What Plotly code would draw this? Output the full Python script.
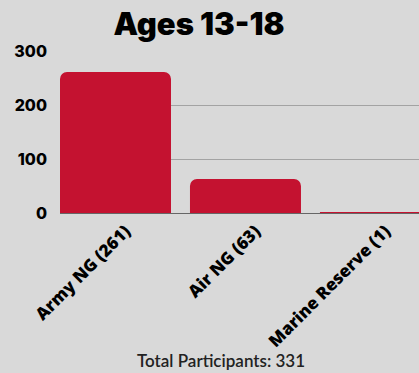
import plotly.graph_objects as go

categories = ["Army NG (261)", "Air NG (63)", "Marine Reserve (1)"]
values = [261, 63, 1]
y_ticks = [0, 100, 200, 300]
title_text = "Ages 13-18"
footer_text = "Total Participants: 331"

BG = "#d9d9d9"
RED = "#c41230"

fig = go.Figure(go.Bar(
    x=categories, y=values,
    marker=dict(color=RED, cornerradius=7, line=dict(width=0)),
    width=0.854,
))

fig.update_layout(
    width=419, height=373,
    paper_bgcolor=BG, plot_bgcolor=BG,
    margin=dict(l=60, r=0, t=51, b=160),
    showlegend=False,
    title=dict(text=title_text, x=0.475, xanchor="center", y=0.936, yanchor="middle",
               font=dict(family="Inter", size=31, color="#000", weight=900)),
    xaxis=dict(range=[-0.427, 2.335], tickangle=-45, showgrid=False,
               tickfont=dict(family="Open Sans", size=17, color="#000", weight=800),
               ticklabelshift=10, ticklabelstandoff=4,
               showline=False, zeroline=False),
    yaxis=dict(range=[0, 300], tickvals=y_ticks, showgrid=True, gridcolor="#a3a3a3",
               gridwidth=1, zeroline=True, zerolinecolor="#666666", zerolinewidth=1,
               tickfont=dict(family="Inter", size=16, color="#000", weight=800),
               ticklabelstandoff=12),
    annotations=[dict(text=footer_text, x=0.449, xref="paper", y=-(360 - 213) / 162,
                      yref="paper", yanchor="middle", showarrow=False,
                      font=dict(family="Lato", size=17, color="#222", weight=600))],
)
fig.write_html("out.html")
